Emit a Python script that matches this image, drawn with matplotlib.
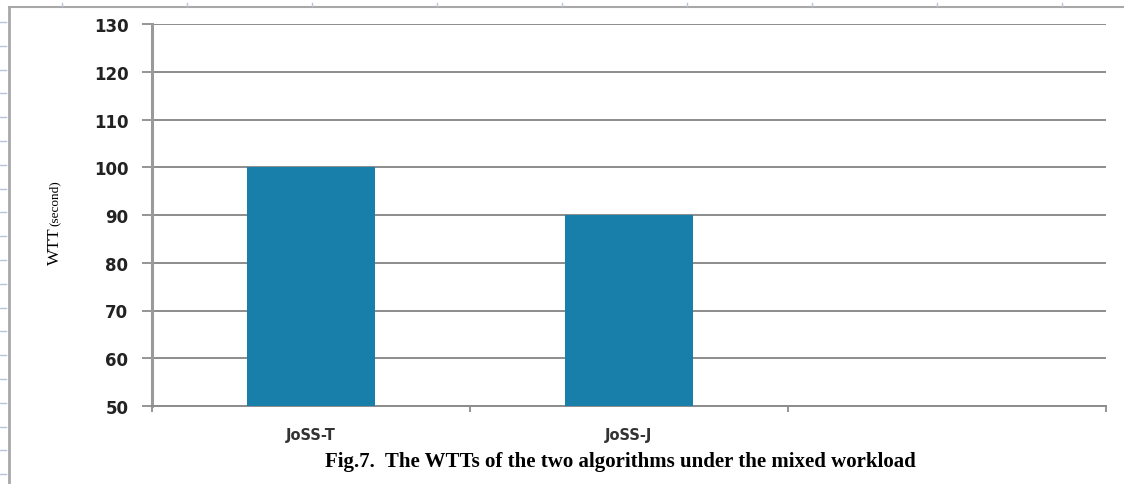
# WTT of the two scheduling algorithms under the mixed workload.

import matplotlib.pyplot as plt
import numpy as np

algorithms = ['JoSS-T', 'JoSS-J', '']
wtt = [100, 90, np.nan]
y_ticks = [50, 60, 70, 80, 90, 100, 110, 120, 130]

bar_colour = '#177fa9'
grid_colour = '#8c8c8c'

fig = plt.figure(figsize=(11.24, 4.85), dpi=100)
ax = fig.add_axes([152 / 1124, 1 - 407 / 485, (1106 - 152) / 1124, (407 - 25) / 485])

x = np.arange(len(algorithms))
ax.bar(x, wtt, width=0.4, color=bar_colour, zorder=3)

ax.set_xlim(-0.5, len(algorithms) - 0.5)
ax.set_ylim(50, 130)
ax.set_yticks(y_ticks)
ax.set_yticklabels([str(v) for v in y_ticks], fontsize=12, fontweight='bold',
                   family='DejaVu Sans', color='#222222')
ax.yaxis.grid(True, color=grid_colour, linewidth=1.4, zorder=0)

# category labels in the middle, short ticks on the category borders
ax.set_xticks(x)
ax.set_xticklabels(algorithms, fontsize=10.5, fontweight='bold', color='#333333')
ax.tick_params(axis='x', which='major', length=0, pad=15)
ax.set_xticks(np.arange(len(algorithms) + 1) - 0.5, minor=True)
ax.tick_params(axis='x', which='minor', length=4, width=1.3, color=grid_colour)
ax.tick_params(axis='y', length=7, width=1.3, color=grid_colour, pad=10)

for side in ['top', 'right']:
    ax.spines[side].set_visible(False)
ax.spines['left'].set_color('#9a9a9a')
ax.spines['left'].set_linewidth(2.2)
ax.spines['bottom'].set_color(grid_colour)
ax.spines['bottom'].set_linewidth(1.4)

# axis title: large "WTT", smaller unit above it
fig.text(55 / 1124, 1 - 265 / 485, 'WTT', rotation=90, ha='center', va='bottom',
         family='Liberation Serif', fontsize=12.5)
fig.text(55 / 1124, 1 - 226 / 485, '(second)', rotation=90, ha='center', va='bottom',
         family='Liberation Serif', fontsize=9.5)

fig.text(620 / 1124, 1 - 462 / 485,
         'Fig.7.  The WTTs of the two algorithms under the mixed workload',
         ha='center', va='center', family='Liberation Serif', fontweight='bold', fontsize=15)

# page frame with ruler marks on the left and top
fig.add_artist(plt.Line2D([9 / 1124, 9 / 1124], [0, 1 - 8 / 485], color='#a8a8a8',
                          linewidth=2, transform=fig.transFigure))
fig.add_artist(plt.Line2D([9 / 1124, 1], [1 - 8 / 485, 1 - 8 / 485], color='#a8a8a8',
                          linewidth=1.5, transform=fig.transFigure))
for yp in np.arange(23, 485, 23.8):
    fig.add_artist(plt.Line2D([0, 6 / 1124], [1 - yp / 485, 1 - yp / 485], color='#b8c4dc',
                              linewidth=1, transform=fig.transFigure))
for xp in np.arange(62, 1124, 125):
    fig.add_artist(plt.Line2D([xp / 1124, xp / 1124], [1 - 4 / 485, 1 - 7 / 485], color='#b8c4dc',
                              linewidth=1, transform=fig.transFigure))

fig.savefig('out.png', dpi=100)
